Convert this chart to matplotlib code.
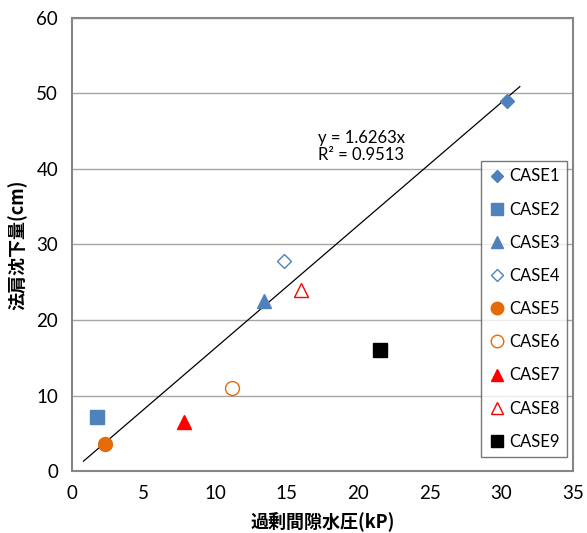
import numpy as np
import matplotlib
import matplotlib.pyplot as plt

matplotlib.rcParams["font.family"] = ["Lato", "Noto Sans CJK JP", "DejaVu Sans"]

# データ (過剰間隙水圧 kP, 法肩沈下量 cm)
cases = ["CASE1", "CASE2", "CASE3", "CASE4", "CASE5", "CASE6", "CASE7", "CASE8", "CASE9"]
x_vals = [30.4, 1.75, 13.45, 14.8, 2.3, 11.15, 7.85, 16.0, 21.5]
y_vals = [49.0, 7.2, 22.5, 27.8, 3.6, 11.0, 6.5, 24.0, 16.0]

slope = 1.6263
r2 = 0.9513
trend_x = [0.8, 31.3]

blue = "#4F81BD"
orange = "#E36C09"
red = "#FF0000"
styles = [
    dict(marker="D", color=blue, fill=True, ms=7),
    dict(marker="s", color=blue, fill=True, ms=9.5),
    dict(marker="^", color=blue, fill=True, ms=9.5),
    dict(marker="D", color=blue, fill=False, ms=7),
    dict(marker="o", color=orange, fill=True, ms=10),
    dict(marker="o", color=orange, fill=False, ms=10),
    dict(marker="^", color=red, fill=True, ms=9.5),
    dict(marker="^", color=red, fill=False, ms=9.5),
    dict(marker="s", color="black", fill=True, ms=9.5),
]

fig = plt.figure(figsize=(5.87, 5.33), dpi=100)
ax = fig.add_axes([0.1227, 0.1163, 0.853, 0.85])

for name, xv, yv, st in zip(cases, x_vals, y_vals, styles):
    ax.plot([xv], [yv], linestyle="none", marker=st["marker"], markersize=st["ms"],
            markerfacecolor=st["color"] if st["fill"] else "white",
            markeredgecolor=st["color"], markeredgewidth=1.0, label=name, zorder=3)

tx = np.array(trend_x)
ax.plot(tx, slope * tx, color="black", linewidth=0.9, zorder=2)
ax.text(17.2, 43.0, f"y = {slope}x\nR² = {r2}", fontsize=12, linespacing=1.05,
        ha="left", va="center")

ax.set_xlim(0, 35)
ax.set_ylim(0, 60)
ax.set_xticks(np.arange(0, 36, 5))
ax.set_yticks(np.arange(0, 61, 10))
ax.yaxis.grid(True, color="#a6a6a6", linewidth=1.0)
ax.set_axisbelow(True)
ax.tick_params(length=0, labelsize=13.5, pad=10)
for s in ax.spines.values():
    s.set_color("#868686")
    s.set_linewidth(1.5)

ax.set_xlabel("過剰間隙水圧(kP)", fontsize=13, fontweight="bold", labelpad=7,
              family=["Noto Sans CJK JP", "DejaVu Sans"])
ax.set_ylabel("法肩沈下量(cm)", fontsize=13, fontweight="bold", labelpad=6,
              family=["Noto Sans CJK JP", "DejaVu Sans"])

leg = ax.legend(loc="upper left", bbox_to_anchor=(0.8, 0.703), fontsize=12,
                frameon=True, fancybox=False, edgecolor="#555555", labelspacing=1.03,
                handletextpad=0.25, handlelength=1.0, borderpad=0.45, markerscale=0.9)
leg.get_frame().set_linewidth(1.0)

fig.savefig("out.png", dpi=100, facecolor="white")
